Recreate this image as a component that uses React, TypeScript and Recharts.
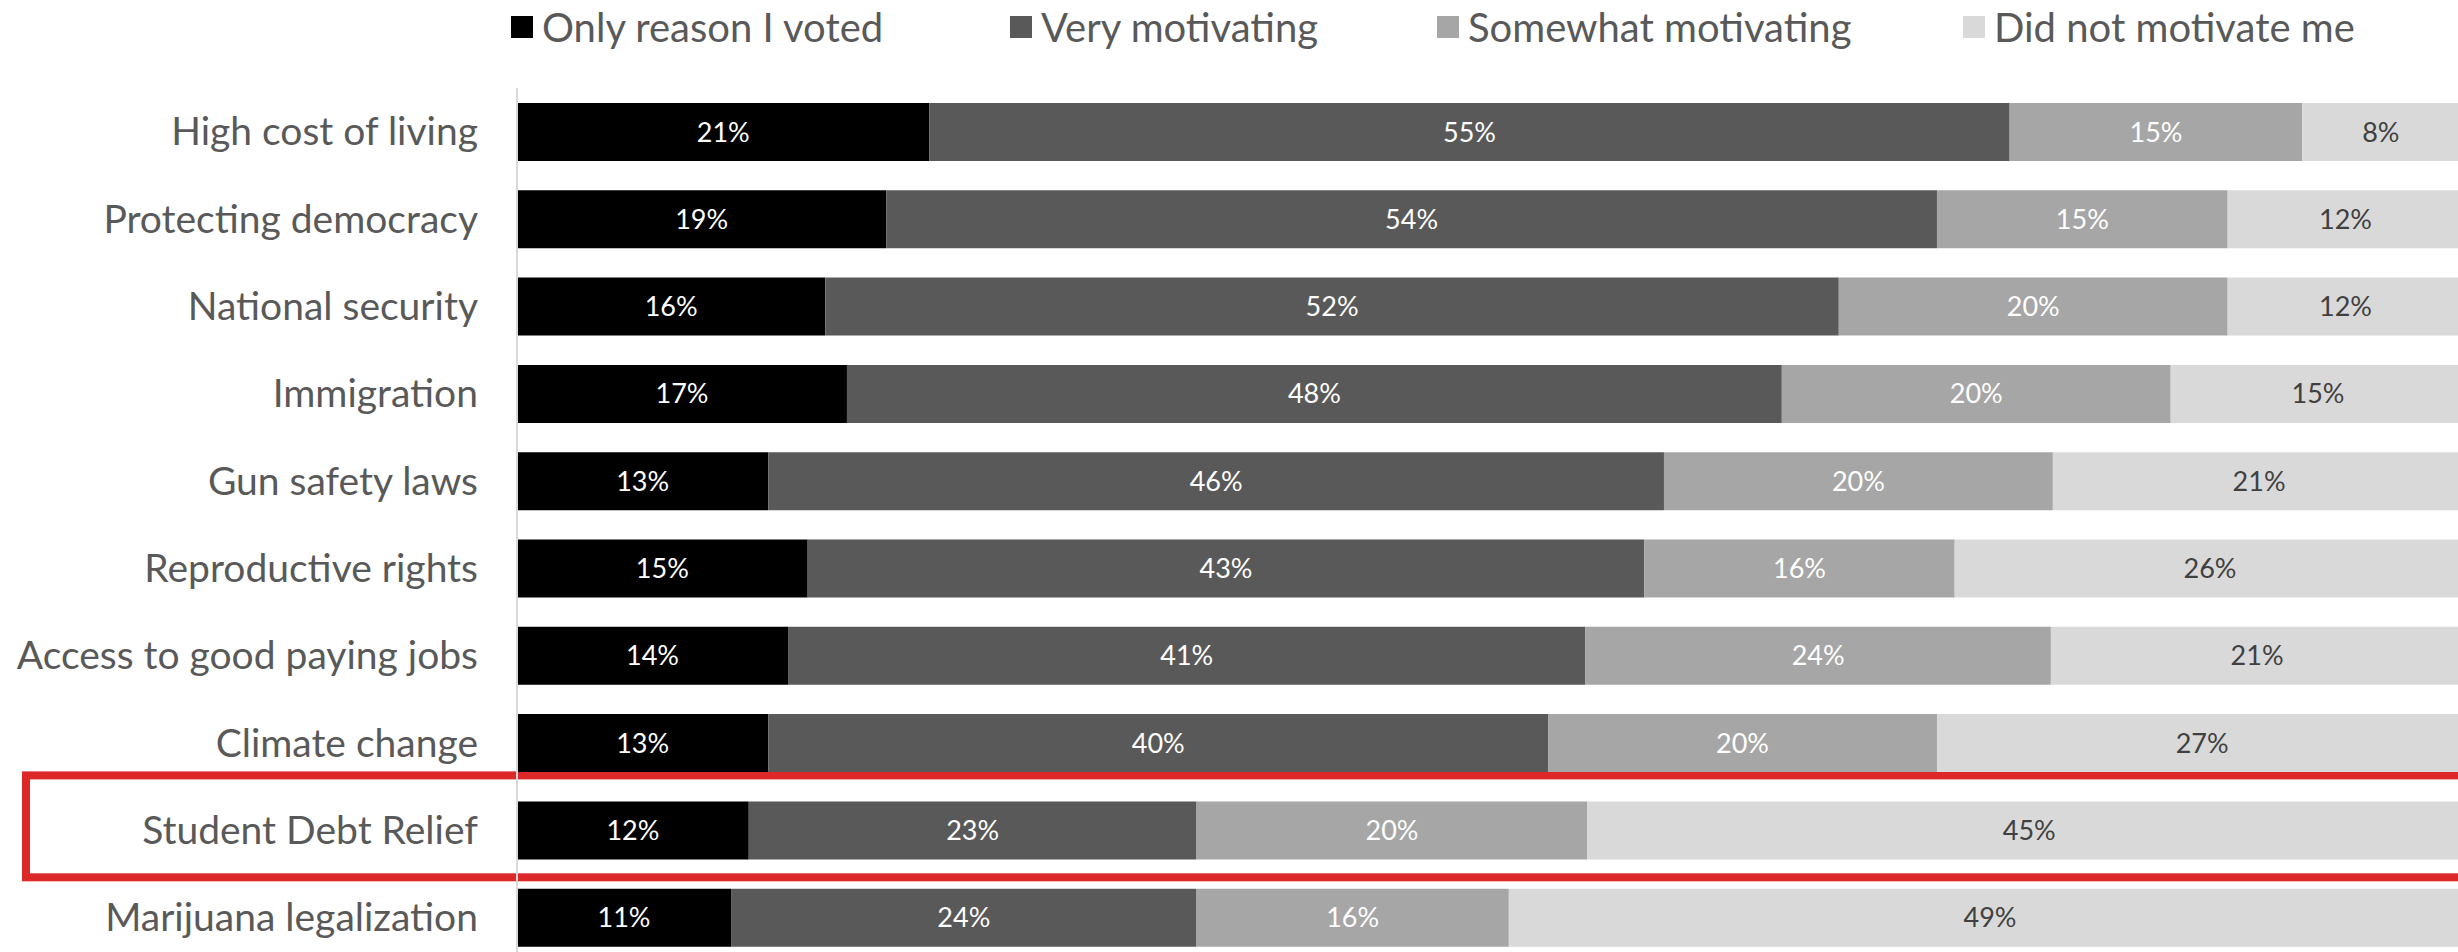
import React from 'react';
import { BarChart, Bar, XAxis, YAxis, LabelList, Legend, ReferenceArea } from 'recharts';

const categories = [
  'High cost of living',
  'Protecting democracy',
  'National security',
  'Immigration',
  'Gun safety laws',
  'Reproductive rights',
  'Access to good paying jobs',
  'Climate change',
  'Student Debt Relief',
  'Marijuana legalization',
];
const onlyReason = [21.0, 18.8, 15.7, 16.8, 12.8, 14.8, 13.8, 12.8, 11.8, 10.9];
const veryMotivating = [55.0, 53.5, 51.6, 47.6, 45.6, 42.6, 40.6, 39.7, 22.8, 23.7];
const somewhatMotivating = [14.9, 14.8, 19.8, 19.8, 19.8, 15.8, 23.7, 19.8, 19.9, 15.9];
const didNotMotivate = [8, 12, 12, 15, 21, 26, 21, 27, 45, 49];

const seriesNames = ['Only reason I voted', 'Very motivating', 'Somewhat motivating', 'Did not motivate me'];
const seriesKeys = ['only', 'very', 'somewhat', 'not'];
const seriesColors = ['#000000', '#595959', '#a6a6a6', '#d9d9d9'];
const labelColors = ['#ffffff', '#ffffff', '#ffffff', '#404040'];
const highlighted = categories[8];

const data = categories.map((name, i) => ({
  name,
  only: onlyReason[i],
  very: veryMotivating[i],
  somewhat: somewhatMotivating[i],
  not: didNotMotivate[i],
}));

const FONT = 'Lato, "Open Sans", sans-serif';
const legendItemWidths = [499, 427, 526, 420];

const renderLegend = () => (
  <div style={{ height: 88, position: 'relative', paddingLeft: 511, display: 'flex', alignItems: 'flex-start', boxSizing: 'border-box', fontFamily: FONT }}>
    {seriesNames.map((n, i) => (
      <div key={n} style={{ width: legendItemWidths[i], display: 'flex', alignItems: 'center', height: 54, flex: '0 0 auto' }}>
        <span style={{ display: 'inline-block', width: 22, height: 22, background: seriesColors[i], marginRight: 9 }} />
        <span style={{ fontSize: 40, color: '#595959', whiteSpace: 'nowrap', lineHeight: '54px' }}>{n}</span>
      </div>
    ))}
  </div>
);

const fmt = (v: any) => `${Math.round(Number(v))}%`;

export default function App() {
  return (
    <div style={{ position: 'fixed', left: 0, top: 0, width: 2458, height: 952, overflow: 'hidden', background: '#ffffff' }}>
      <BarChart
        width={2481}
        height={961}
        data={data}
        layout="vertical"
        margin={{ top: 0, right: 0, bottom: 0, left: 0 }}
      >
        <Legend verticalAlign="top" align="left" content={renderLegend} />
        <XAxis type="number" domain={[0, 100]} hide />
        <YAxis
          type="category"
          dataKey="name"
          width={517}
          interval={0}
          tickLine={false}
          tickSize={0}
          tickMargin={39}
          axisLine={{ stroke: '#d9d9d9', strokeWidth: 2 }}
          tick={{ fill: '#595959', fontSize: 39, fontFamily: FONT }}
        />
        {seriesKeys.map((k, i) => (
          <Bar key={k} dataKey={k} name={seriesNames[i]} stackId="a" fill={seriesColors[i]} barSize={58} isAnimationActive={false}>
            <LabelList dataKey={k} position="center" formatter={fmt} fill={labelColors[i]} fontSize={27} fontFamily={FONT} />
          </Bar>
        ))}
        <ReferenceArea
          y1={highlighted}
          y2={highlighted}
          ifOverflow="visible"
          shape={(p: any) => (
            <rect
              x={26}
              y={p.y - 11}
              width={p.x + p.width + 40 - 26}
              height={p.height + 14.6}
              fill="none"
              stroke="#dc2828"
              strokeWidth={8}
            />
          )}
        />
      </BarChart>
    </div>
  );
}
